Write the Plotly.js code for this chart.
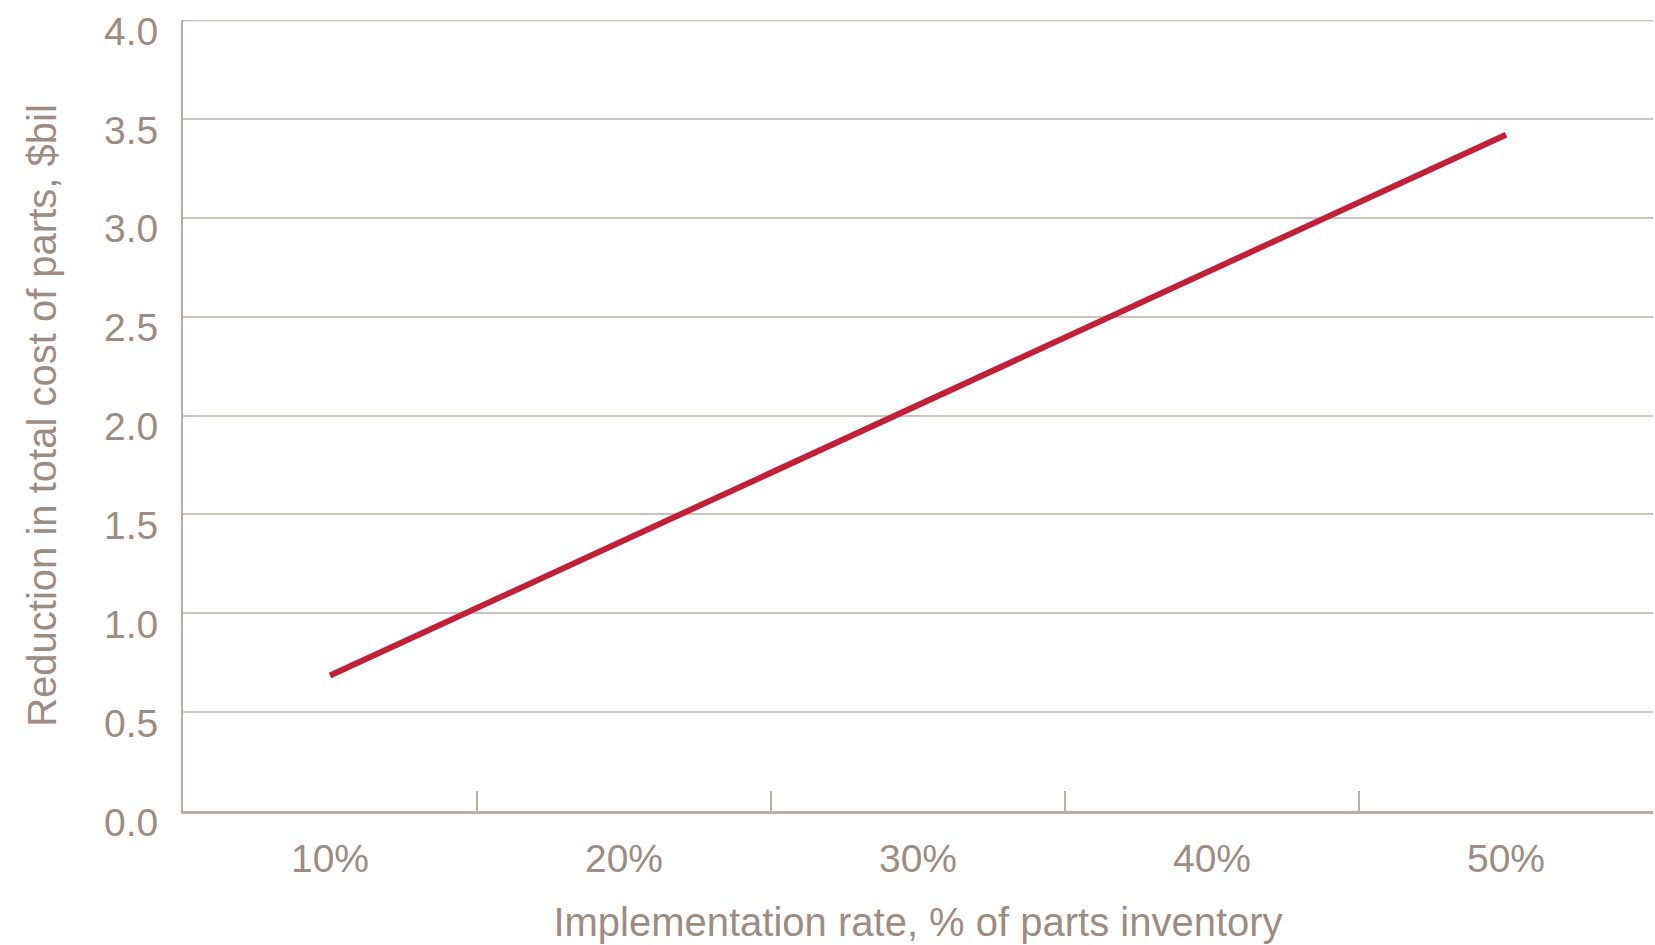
<!DOCTYPE html>
<html>
<head>
<meta charset="utf-8">
<script src="https://cdn.plot.ly/plotly-3.0.1.min.js"></script>
<style>html,body{margin:0;padding:0;background:#fff;}#chart{width:1655px;height:945px;}</style>
</head>
<body>
<div id="chart"></div>
<script>
const categories = ["10%", "20%", "30%", "40%", "50%"];
const reductionBil = [0.685, 1.37, 2.05, 2.74, 3.42];
const yTickValues = [0, 0.5, 1, 1.5, 2, 2.5, 3, 3.5, 4];

const textColor = "#9c8d84";
const gridColor = "#cbc3bc";
const axisColor = "#b8aea6";

const trace = {
  x: categories,
  y: reductionBil,
  type: "scatter",
  mode: "lines",
  line: { color: "#c21f3a", width: 6 },
  hoverinfo: "skip"
};

const layout = {
  width: 1655,
  height: 945,
  paper_bgcolor: "#ffffff",
  plot_bgcolor: "#ffffff",
  showlegend: false,
  margin: { l: 183, r: 2, t: 20, b: 134 },
  font: { family: "Liberation Sans, Arial, sans-serif", color: textColor, size: 39 },
  xaxis: {
    type: "category",
    range: [-0.5, 4.5],
    showgrid: false,
    showline: true,
    linecolor: axisColor,
    linewidth: 3,
    ticks: "inside",
    tickson: "boundaries",
    ticklen: 20,
    tickwidth: 2,
    tickcolor: axisColor,
    ticklabelstandoff: 11,
    tickfont: { size: 39, color: textColor },
    title: { text: "Implementation rate, % of parts inventory", font: { size: 40, color: textColor }, standoff: 30 },
    zeroline: false,
    fixedrange: true
  },
  yaxis: {
    range: [0, 4],
    tickvals: yTickValues,
    tickformat: ".1f",
    showgrid: true,
    gridcolor: gridColor,
    gridwidth: 2,
    showline: true,
    linecolor: axisColor,
    linewidth: 2,
    ticks: "",
    zeroline: false,
    ticklabelstandoff: 15,
    ticklabelshift: 11,
    tickfont: { size: 39, color: textColor },
    title: { text: "Reduction in total cost of parts, $bil", font: { size: 40, color: textColor }, standoff: 35 },
    fixedrange: true
  },
  shapes: [{
    type: "line", xref: "paper", yref: "y", x0: 0, x1: 1, y0: 4, y1: 4,
    line: { color: gridColor, width: 3 }
  }]
};

Plotly.newPlot("chart", [trace], layout, { displayModeBar: false, staticPlot: true });
</script>
</body>
</html>
